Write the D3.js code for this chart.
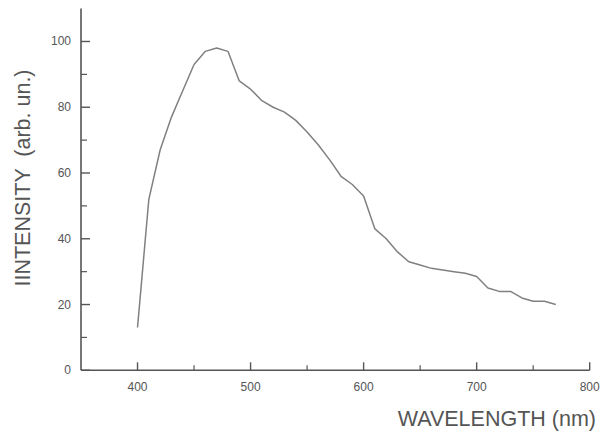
<!DOCTYPE html>
<html>
<head>
<meta charset="utf-8">
<script src="https://cdn.jsdelivr.net/npm/d3@7"></script>
<style>
  body { margin: 0; background: #fff; }
  text { font-family: Arial, "Liberation Sans", sans-serif; }
</style>
</head>
<body>
<svg id="chart" width="603" height="435"></svg>
<script>
// spectrum
const wavelength = [400, 410, 420, 430, 440, 450, 460, 470, 480, 490, 500, 510, 520, 530, 540, 550, 560, 570, 580, 590,
  600, 610, 620, 630, 640, 650, 660, 670, 680, 690, 700, 710, 720, 730, 740, 750, 760, 770]
const intensity = [13, 52, 67, 77, 85, 93, 97, 98, 97, 88, 85.5, 82, 80, 78.5, 76, 72.5, 68.5, 64, 59, 56.5,
  53, 43, 40, 36, 33, 32, 31, 30.5, 30, 29.5, 28.5, 25, 24, 24, 22, 21, 21, 20]
const xTicks = [400, 500, 600, 700, 800]
const xMinor = [450, 550, 650, 750]
const yTicks = [0, 20, 40, 60, 80, 100]
const yMinor = [10, 30, 50, 70, 90]

const axisColor = '#555'
const svg = d3.select('#chart')

const x = d3.scaleLinear().domain([350, 800]).range([81, 589.7])
const y = d3.scaleLinear().domain([0, 110]).range([370.3, 8.6])

const g = svg.append('g')

// axes lines
g.append('line')
  .attr('x1', x(350)).attr('x2', x(800))
  .attr('y1', y(0)).attr('y2', y(0))
  .style('stroke', axisColor).style('stroke-width', 1.6)
g.append('line')
  .attr('x1', x(350)).attr('x2', x(350))
  .attr('y1', y(0)).attr('y2', y(110))
  .style('stroke', axisColor).style('stroke-width', 1.6)

// x ticks (pointing up)
g.selectAll('.xt').data(xTicks).enter().append('line')
  .attr('x1', d => x(d)).attr('x2', d => x(d))
  .attr('y1', y(0)).attr('y2', y(0) - 8)
  .style('stroke', axisColor).style('stroke-width', 1.4)
g.selectAll('.xm').data(xMinor).enter().append('line')
  .attr('x1', d => x(d)).attr('x2', d => x(d))
  .attr('y1', y(0)).attr('y2', y(0) - 5)
  .style('stroke', axisColor).style('stroke-width', 1.2)
g.selectAll('.xl').data(xTicks).enter().append('text')
  .attr('x', d => x(d)).attr('y', y(0) + 21)
  .attr('text-anchor', 'middle')
  .style('font-size', '12px').style('fill', '#555')
  .text(d => d)

// y ticks (pointing right)
g.selectAll('.yt').data(yTicks).enter().append('line')
  .attr('x1', x(350)).attr('x2', x(350) + 9)
  .attr('y1', d => y(d)).attr('y2', d => y(d))
  .style('stroke', axisColor).style('stroke-width', 1.4)
g.selectAll('.ym').data(yMinor).enter().append('line')
  .attr('x1', x(350)).attr('x2', x(350) + 6)
  .attr('y1', d => y(d)).attr('y2', d => y(d))
  .style('stroke', axisColor).style('stroke-width', 1.2)
g.selectAll('.yl').data(yTicks).enter().append('text')
  .attr('x', x(350) - 10).attr('y', d => y(d) + 4)
  .attr('text-anchor', 'end')
  .style('font-size', '12px').style('fill', '#555')
  .text(d => d)

// curve
const line = d3.line()
  .x((d, i) => x(wavelength[i]))
  .y(d => y(d))
g.append('path')
  .datum(intensity)
  .attr('d', line)
  .style('fill', 'none')
  .style('stroke', '#808080')
  .style('stroke-width', 1.5)
  .style('stroke-linejoin', 'round')

// titles
svg.append('text')
  .attr('x', 596).attr('y', 426)
  .attr('text-anchor', 'end')
  .style('font-size', '21.5px').style('fill', '#555')
  .text('WAVELENGTH (nm)')
svg.append('text')
  .attr('transform', 'translate(30,178) rotate(-90)')
  .attr('text-anchor', 'middle')
  .style('font-size', '21.5px').style('fill', '#555')
  .style('white-space', 'pre')
  .text('IINTENSITY  (arb. un.)')
</script>
</body>
</html>
